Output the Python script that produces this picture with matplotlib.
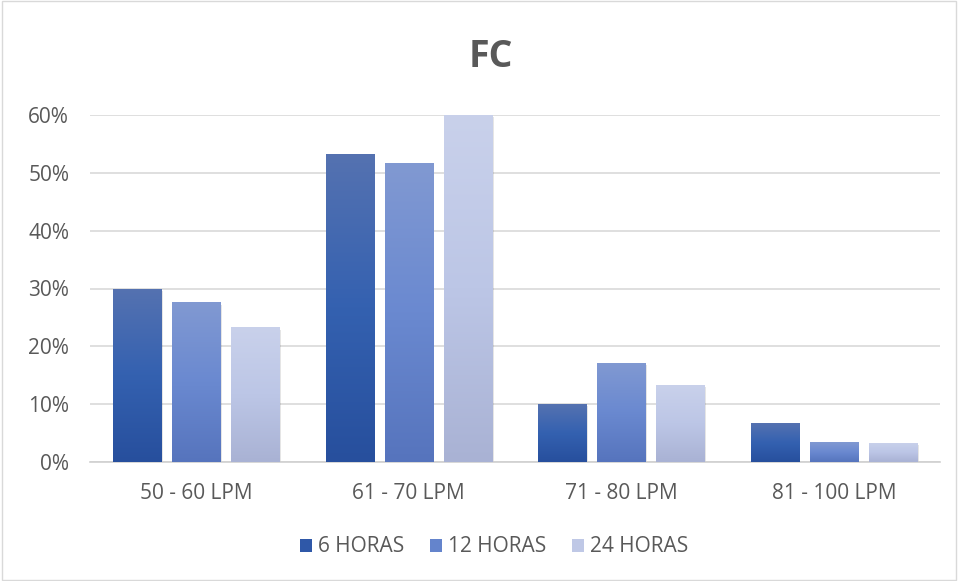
import matplotlib
matplotlib.use("Agg")
import matplotlib.pyplot as plt
import numpy as np
from matplotlib.colors import LinearSegmentedColormap
from matplotlib.patches import Rectangle

categories = ["50 - 60 LPM", "61 - 70 LPM", "71 - 80 LPM", "81 - 100 LPM"]
series_names = ["6 HORAS", "12 HORAS", "24 HORAS"]
h6 = [0.30, 0.533, 0.10, 0.067]
h12 = [0.276, 0.517, 0.172, 0.034]
h24 = [0.233, 0.60, 0.133, 0.033]
yticks = [0, 0.1, 0.2, 0.3, 0.4, 0.5, 0.6]
ytick_labels = ["0%", "10%", "20%", "30%", "40%", "50%", "60%"]

series = [h6, h12, h24]
# gradient stops (top, middle, bottom)
grads = [
    ["#5572b1", "#3461b0", "#274f9d"],
    ["#8199d2", "#6a89d0", "#5674bd"],
    ["#c9d1eb", "#bcc6e6", "#a9b2d4"],
]
legend_colors = ["#2f58a8", "#6484cc", "#bfc8e6"]

plt.rcParams['font.family'] = ['Open Sans', 'DejaVu Sans']
text_color = "#595959"

fig = plt.figure(figsize=(9.58, 5.81), dpi=100)
ax = fig.add_axes([90/958, 1-462/581, 850/958, (462-115)/581])
ax.set_xlim(-0.5, 3.5)
ax.set_ylim(0, 0.6)

width = 0.226
pitch = 0.278
x = np.arange(len(categories))
for i, (vals, g) in enumerate(zip(series, grads)):
    cmap = LinearSegmentedColormap.from_list("g%d" % i, g[::-1])
    offs = (i - 1) * pitch
    for xi, v in zip(x, vals):
        x0 = xi + offs - width/2
        # soft shadow on right side
        sh = Rectangle((x0 + width, 0), 0.008, v - 0.004, facecolor="#000000",
                       alpha=0.10, edgecolor="none", zorder=2)
        ax.add_patch(sh)
        rect = Rectangle((x0, 0), width, v, facecolor="none", edgecolor="none", zorder=3)
        ax.add_patch(rect)
        grad = np.linspace(0, 1, 256).reshape(-1, 1)
        im = ax.imshow(grad, cmap=cmap, aspect="auto", origin="lower",
                       extent=[x0, x0 + width, 0, v], zorder=3, interpolation="bicubic")
        im.set_clip_path(rect)

ax.set_xlim(-0.5, 3.5)
ax.set_ylim(0, 0.6)
ax.set_yticks(yticks)
ax.set_yticklabels(ytick_labels)
ax.set_xticks(x)
ax.set_xticklabels(categories)
ax.tick_params(axis="both", length=0, colors=text_color, labelsize=15)
ax.tick_params(axis="x", pad=15)
ax.tick_params(axis="y", pad=15)
ax.grid(axis="y", color="#d9d9d9", linewidth=1.2, zorder=0)
ax.set_axisbelow(True)
for s in ["top", "right", "left"]:
    ax.spines[s].set_visible(False)
ax.spines["bottom"].set_color("#d0d0d0")
ax.spines["bottom"].set_linewidth(1.2)

fig.text(491/958, 1-57/581, "FC", ha="center", va="center", fontsize=27,
         fontweight="bold", color=text_color)

handles = [Rectangle((0, 0), 1, 1, facecolor=c, edgecolor="none") for c in legend_colors]
fig.legend(handles, series_names, loc="center", bbox_to_anchor=(494/958, 1-547/581),
           ncol=3, frameon=False, fontsize=15, labelcolor=text_color,
           handlelength=0.6, handleheight=0.6, handletextpad=0.3, columnspacing=1.2)

border = Rectangle((0.002, 0.002), 0.996, 0.996, transform=fig.transFigure,
                   facecolor="none", edgecolor="#d9d9d9", linewidth=1)
fig.patches.append(border)

fig.savefig("out.png", dpi=100)
